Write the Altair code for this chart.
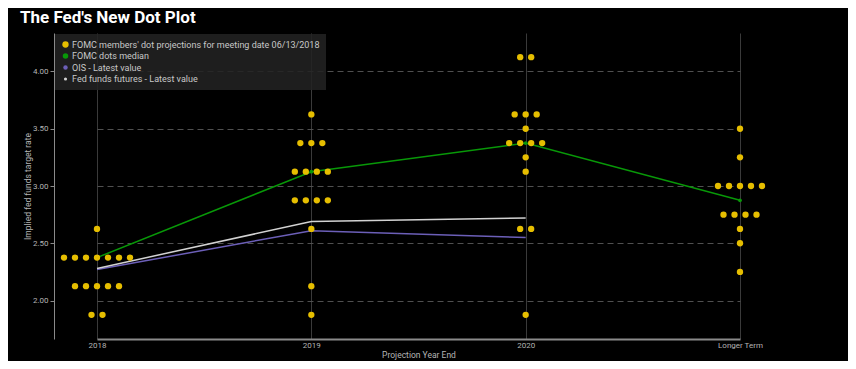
import altair as alt
import pandas as pd

years = ["2018", "2019", "2020", "Longer Term"]

# FOMC participants' projections: (rate, number of dots) per column
dots_2018 = [(2.625, 1), (2.375, 7), (2.125, 5), (1.875, 2)]
dots_2019 = [(3.625, 1), (3.375, 3), (3.125, 4), (2.875, 4), (2.625, 1), (2.125, 1), (1.875, 1)]
dots_2020 = [(4.125, 2), (3.625, 3), (3.5, 1), (3.375, 4), (3.25, 1), (3.125, 1), (2.625, 2), (1.875, 1)]
dots_longer = [(3.5, 1), (3.25, 1), (3.0, 5), (2.75, 4), (2.625, 1), (2.5, 1), (2.25, 1)]

median = [2.375, 3.125, 3.375, 2.875]
ois = [2.27, 2.61, 2.55]
futures = [2.28, 2.69, 2.72]

series = [
    "FOMC members' dot projections for meeting date 06/13/2018",
    "FOMC dots median",
    "OIS - Latest value",
    "Fed funds futures - Latest value",
]
colors = ["#e6be00", "#089808", "#6c5fb8", "#d2d2d2"]

# ---- tables built from the lists above ----
dot_rows = []
for yr, col in zip(years, [dots_2018, dots_2019, dots_2020, dots_longer]):
    for rate, n in col:
        for i in range(n):
            dot_rows.append({"year": yr, "rate": rate, "slot": i - (n - 1) / 2, "series": series[0]})
dots_df = pd.DataFrame(dot_rows)

line_rows = []
for s, vals in zip(series[1:], [median, ois, futures]):
    for i, v in enumerate(vals):
        line_rows.append({"year": years[i], "rate": v, "series": s, "order": i})
lines_df = pd.DataFrame(line_rows)

axis_common = dict(
    domainColor="#8a8a8a",
    tickColor="#8a8a8a",
    labelColor="#b4b4b4",
    titleColor="#b4b4b4",
    labelFont="Roboto",
    titleFont="Roboto",
    labelFontSize=8,
    titleFontSize=8.5,
    titleFontWeight="normal",
    tickSize=4,
)

x_enc = alt.X(
    "year:N",
    sort=years,
    scale=alt.Scale(type="point", domain=years, range=[43, 686], padding=0),
    axis=alt.Axis(
        title="Projection Year End",
        labelAngle=0,
        grid=True,
        gridColor="#3a3a3a",
        gridWidth=1,
        domainWidth=2,
        ticks=False,
        labelPadding=2,
        titlePadding=1,
        **axis_common,
    ),
)
y_enc = alt.Y(
    "rate:Q",
    scale=alt.Scale(domain=[1.664, 4.336], nice=False, zero=False),
    axis=alt.Axis(
        title="Implied fed funds target rate",
        values=[2.0, 2.5, 3.0, 3.5, 4.0],
        format=".2f",
        grid=True,
        gridColor="#505050",
        gridDash=[6, 4],
        gridWidth=1,
        titlePadding=0,
        labelPadding=2,
        **axis_common,
    ),
)
color_enc = alt.Color(
    "series:N",
    scale=alt.Scale(domain=series, range=colors),
    legend=alt.Legend(
        title=None,
        orient="top-left",
        offset=1,
        fillColor="rgba(34,34,34,0.88)",
        padding=6,
        labelColor="#c8c8c8",
        labelFont="Roboto",
        labelFontSize=9,
        labelLimit=400,
        labelOffset=2,
        rowPadding=1.5,
        symbolType="circle",
        symbolStrokeWidth=0,
    ),
)

lines = (
    alt.Chart(lines_df)
    .mark_line(strokeWidth=1.5)
    .encode(x=x_enc, y=y_enc, color=color_enc, detail="series:N", order="order:Q")
)

median_pts = (
    alt.Chart(lines_df[lines_df["series"] == series[1]])
    .mark_circle(size=14, opacity=1)
    .encode(x=x_enc, y=y_enc, color=color_enc)
)

dots = (
    alt.Chart(dots_df)
    .mark_circle(opacity=1)
    .encode(
        x=x_enc,
        xOffset=alt.XOffset("slot:Q", scale=alt.Scale(domain=[-3, 3], range=[-33, 33])),
        y=y_enc,
        color=color_enc,
        size=alt.Size(
            "series:N",
            scale=alt.Scale(domain=series, range=[40, 10, 10, 10]),
            legend=None,
        ),
    )
)

chart = (
    alt.layer(lines, median_pts, dots)
    .properties(
        width=718,
        height=306,
        autosize=alt.AutoSizeParams(type="none"),
        padding={"left": 46, "top": 25, "right": 76, "bottom": 22},
        background="black",
        title=alt.TitleParams(
            "The Fed's New Dot Plot",
            anchor="start",
            frame="group",
            color="white",
            font="Roboto",
            fontSize=17,
            fontWeight="bold",
            dx=-34,
            offset=6,
        ),
    )
    .configure_view(stroke=None)
)

chart.save("out.html", embed_options={"renderer": "svg", "actions": False})
